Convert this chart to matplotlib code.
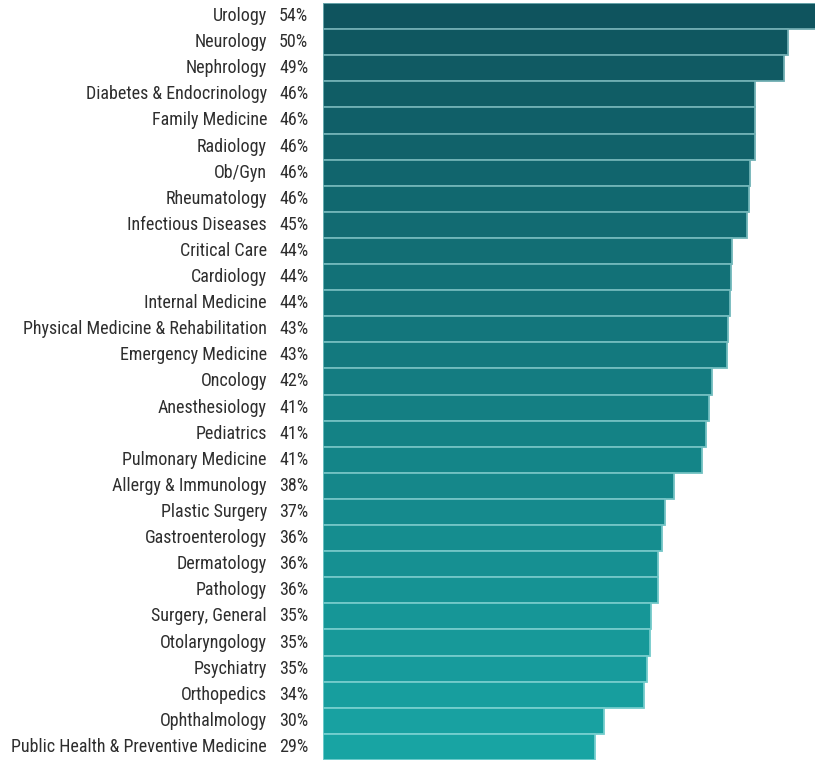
import matplotlib.pyplot as plt
import matplotlib.transforms as mtransforms
import numpy as np
from matplotlib import font_manager

specialties = [
    "Urology", "Neurology", "Nephrology", "Diabetes & Endocrinology",
    "Family Medicine", "Radiology", "Ob/Gyn", "Rheumatology",
    "Infectious Diseases", "Critical Care", "Cardiology", "Internal Medicine",
    "Physical Medicine & Rehabilitation", "Emergency Medicine", "Oncology",
    "Anesthesiology", "Pediatrics", "Pulmonary Medicine", "Allergy & Immunology",
    "Plastic Surgery", "Gastroenterology", "Dermatology", "Pathology",
    "Surgery, General", "Otolaryngology", "Psychiatry", "Orthopedics",
    "Ophthalmology", "Public Health & Preventive Medicine",
]
# bar lengths (percent)
values = [
    54.0, 49.8, 49.4, 46.3, 46.3, 46.3, 45.8, 45.7, 45.4, 43.8, 43.7, 43.6,
    43.4, 43.3, 41.7, 41.4, 41.0, 40.6, 37.6, 36.7, 36.3, 35.9, 35.9, 35.2,
    35.0, 34.7, 34.4, 30.1, 29.2,
]

names = {f.name for f in font_manager.fontManager.ttflist}
family = next((f for f in ["Liberation Sans Narrow", "DejaVu Sans Condensed",
                           "Roboto Condensed", "Roboto"] if f in names), "DejaVu Sans")
plt.rcParams["font.family"] = [family, "DejaVu Sans"]

W, H = 815, 760
fig = plt.figure(figsize=(W / 100, H / 100), dpi=100)
left = 323 / W
ax = fig.add_axes([left, 0, 1 - left, 1 - 3 / H])

# size the text so the longest label spans ~254 px like the reference
probe = fig.text(0, 0, specialties[-1], fontsize=10)
r = fig.canvas.get_renderer()
fs = 10 * 254 / probe.get_window_extent(r).width
probe.remove()

n = len(values)
top_c = np.array([15, 84, 94]) / 255
bot_c = np.array([24, 164, 163]) / 255
t = np.linspace(0, 1, n)
colors = [tuple(top_c * (1 - k) + bot_c * k) for k in t]
edges = [tuple(c * 0.45 + 0.55 * np.array([0.75, 0.95, 0.95])) for c in np.array(colors)]

y = np.arange(n)
ax.barh(y, values, height=1.0, color=colors, edgecolor=edges, linewidth=1.3)
ax.set_xlim(0, 492 / 9.33)
ax.set_ylim(n - 0.5, -0.5)
ax.axis("off")

tr = mtransforms.blended_transform_factory(fig.transFigure, ax.transData)
for i, (name, v) in enumerate(zip(specialties, values)):
    fig.text(267 / W, i, name, transform=tr, ha="right", va="center",
             fontsize=fs, color="#2e2e2e")
    fig.text(279 / W, i, f"{v:.0f}%", transform=tr, ha="left", va="center",
             fontsize=fs, color="#2e2e2e")

fig.savefig("out.png", dpi=100)
